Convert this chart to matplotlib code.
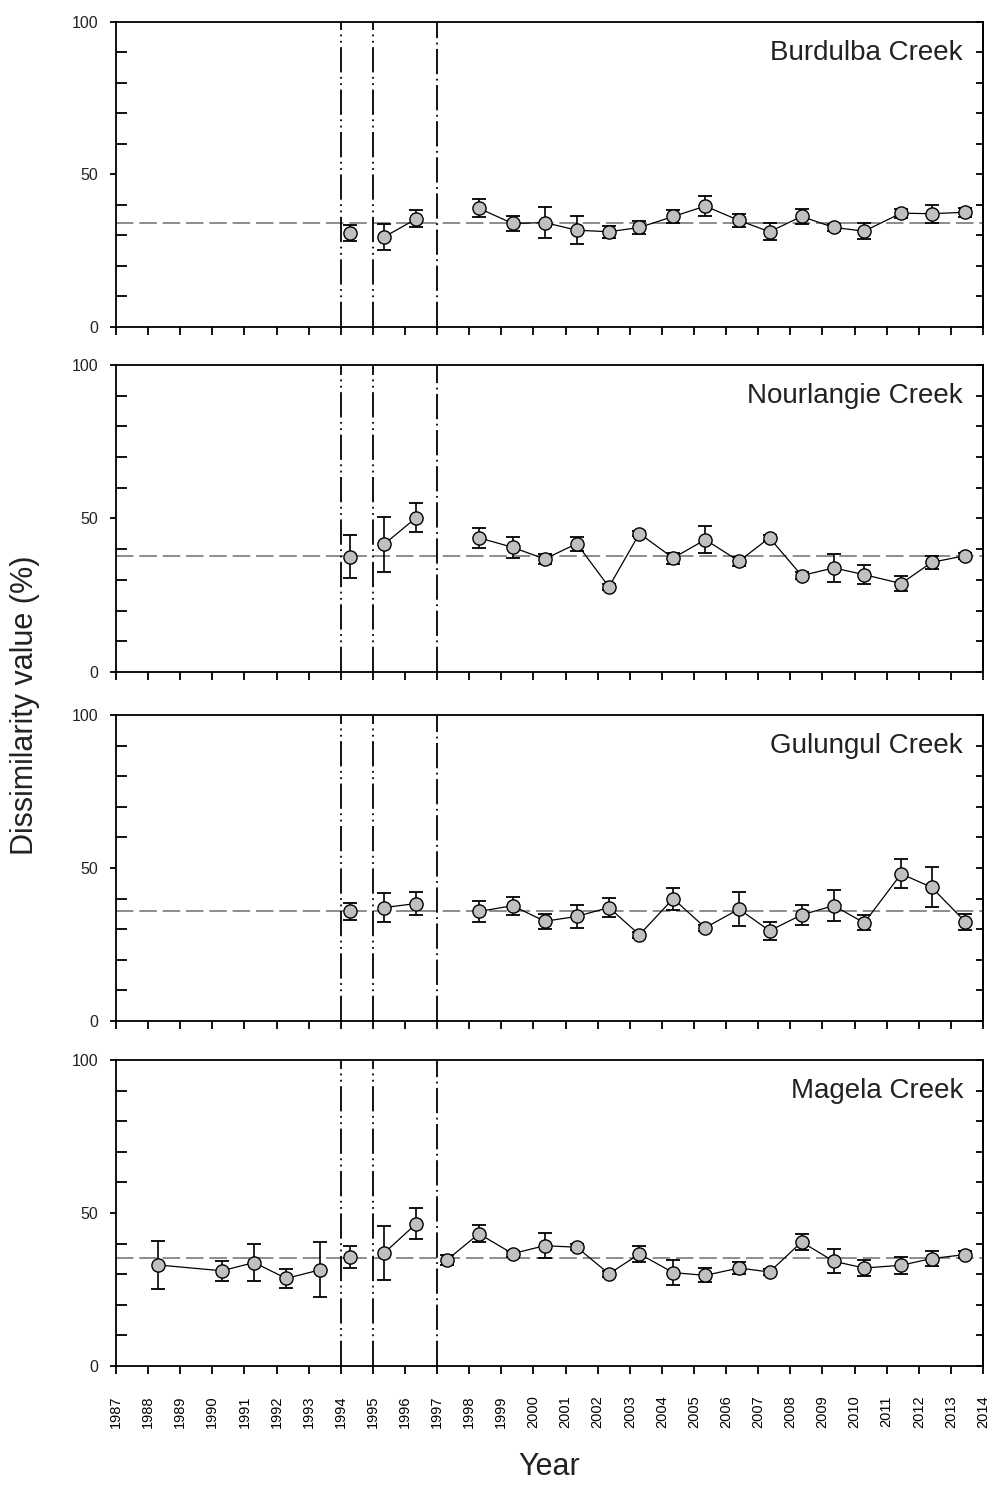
import numpy as np
import matplotlib
matplotlib.use('Agg')
import matplotlib.pyplot as plt
from matplotlib.ticker import MultipleLocator

plt.rcParams['font.family'] = ['Liberation Sans', 'DejaVu Sans']

# sampling dates (decimal years)
dates_main = [1998.3, 1999.35, 2000.35, 2001.35, 2002.35, 2003.3, 2004.35,
              2005.35, 2006.4, 2007.35, 2008.35, 2009.35, 2010.3, 2011.45,
              2012.4, 2013.45]
dates_early = [1994.3, 1995.35, 1996.35]
dates_magela_pre = [1988.3, 1990.3, 1991.3, 1992.3, 1993.35]

creeks = ['Burdulba Creek', 'Nourlangie Creek', 'Gulungul Creek', 'Magela Creek']

burdulba_x = dates_early + dates_main
burdulba_y = [30.8, 29.5, 35.4, 38.9, 33.9, 34.2, 31.7, 31.2, 32.6, 36.2,
              39.6, 34.9, 31.2, 36.2, 32.6, 31.4, 37.3, 37.1, 37.6]
burdulba_err = [2.5, 4.3, 2.8, 3.0, 2.3, 5.0, 4.5, 2.0, 2.0, 2.0, 3.3, 2.0,
                2.8, 2.5, 1.0, 2.5, 1.5, 3.0, 1.5]
burdulba_mean = 34.0

nourlangie_x = dates_early + dates_main
nourlangie_y = [37.6, 41.6, 50.3, 43.7, 40.6, 36.8, 41.8, 27.7, 45.1, 37.1,
                43.1, 36.1, 43.7, 31.4, 33.9, 31.7, 28.8, 35.7, 37.9]
nourlangie_err = [6.9, 9.0, 4.6, 3.3, 3.5, 1.5, 2.3, 1.0, 0.8, 1.8, 4.3, 1.5,
                  1.0, 1.0, 4.5, 3.1, 2.3, 2.0, 1.0]
nourlangie_mean = 37.8

gulungul_x = dates_early + dates_main
gulungul_y = [35.8, 37.1, 38.4, 35.8, 37.7, 32.6, 34.2, 37.1, 28.2, 40.0,
              30.5, 36.6, 29.5, 34.7, 37.7, 32.1, 48.1, 43.7, 32.4]
gulungul_err = [2.7, 4.6, 3.8, 3.4, 2.9, 2.5, 3.7, 3.0, 1.0, 3.6, 1.0, 5.6,
                2.9, 3.3, 5.0, 2.5, 4.7, 6.5, 2.5]
gulungul_mean = 35.8

magela_x = dates_magela_pre + dates_early + [1997.3] + dates_main
magela_y = [33.0, 31.1, 33.8, 28.6, 31.4, 35.5, 36.9, 46.5, 34.6, 43.2, 36.7,
            39.3, 38.8, 30.1, 36.6, 30.5, 29.6, 32.0, 30.7, 40.5, 34.2, 32.0,
            32.9, 35.1, 36.4]
magela_err = [7.7, 3.3, 6.0, 3.2, 9.0, 3.6, 8.7, 5.0, 1.5, 2.7, 1.0, 4.0, 1.0,
              1.0, 2.7, 4.2, 2.3, 2.0, 1.0, 2.5, 3.9, 2.6, 2.7, 2.4, 1.0]
magela_mean = 35.3

breaks = [1994, 1995, 1997]
years = np.arange(1987, 2015)

series = [(burdulba_x, burdulba_y, burdulba_err, burdulba_mean),
          (nourlangie_x, nourlangie_y, nourlangie_err, nourlangie_mean),
          (gulungul_x, gulungul_y, gulungul_err, gulungul_mean),
          (magela_x, magela_y, magela_err, magela_mean)]

fig = plt.figure(figsize=(9.95, 14.86), dpi=100)
left, width = 0.1166, 0.8714
bottoms = [0.7800, 0.5478, 0.3129, 0.0808]
heights = [0.2053, 0.2066, 0.2059, 0.2059]

for k, (name, (xs, ys, es, mean)) in enumerate(zip(creeks, series)):
	ax = fig.add_axes([left, bottoms[k], width, heights[k]])
	xs = np.array(xs)
	ys = np.array(ys)
	es = np.array(es)

	ax.axhline(mean, color='#8c8c8c', lw=1.4, dashes=(9, 3), zorder=1)
	for b in breaks:
		if b == 1997:
			ax.axvline(b, color='black', lw=1.3, dashes=(14, 2.5, 1, 2.5), zorder=1)
		else:
			ax.axvline(b, color='black', lw=1.3,
			           dashes=(14, 2.5, 1, 2.5, 1, 2.5), zorder=1)

	ax.errorbar(xs, ys, yerr=es, fmt='none', ecolor='black', elinewidth=1.2,
	            capsize=5, capthick=1.3, zorder=2)
	groups = np.digitize(xs, breaks)
	for g in np.unique(groups):
		m = groups == g
		ax.plot(xs[m], ys[m], '-o', color='black', lw=0.9, ms=9.5,
		        mfc='#c0c0c0', mec='black', mew=1.0, zorder=3)

	ax.set_xlim(1987, 2014)
	ax.set_ylim(0, 100)
	for sp in ax.spines.values():
		sp.set_linewidth(1.3)

	ax.set_yticks([0, 50, 100])
	ax.yaxis.set_minor_locator(MultipleLocator(10))
	ax.tick_params(axis='y', which='major', direction='out', length=4,
	               width=1.3, labelsize=11.5, pad=9, right=False,
	               labelcolor='#222222')
	ax.tick_params(axis='y', which='minor', direction='in', length=8,
	               width=1.3, right=False)
	sec = ax.secondary_yaxis('right')
	sec.set_yticks(np.arange(0, 101, 10))
	sec.tick_params(direction='in', length=5, width=1.3, labelright=False)
	sec.spines['right'].set_linewidth(1.3)

	ax.set_xticks(years)
	ax.tick_params(axis='x', direction='out', length=6, width=1.3, top=False)
	if k == 3:
		ax.set_xticklabels([str(y) for y in years], rotation=90, fontsize=10.5)
		ax.tick_params(axis='x', pad=15)
	else:
		ax.set_xticklabels([])

	ax.text(0.977, 0.875, name, transform=ax.transAxes, ha='right',
	        va='baseline', fontsize=20, color='#222222')

fig.text(0.025, 0.5256, 'Dissimilarity value (%)', rotation=90,
         ha='center', va='center', fontsize=22, color='#222222')
fig.text(0.552, 1 - 1467 / 1486, 'Year', ha='center', va='center',
         fontsize=22, color='#222222')

fig.savefig('out.png', dpi=100)
